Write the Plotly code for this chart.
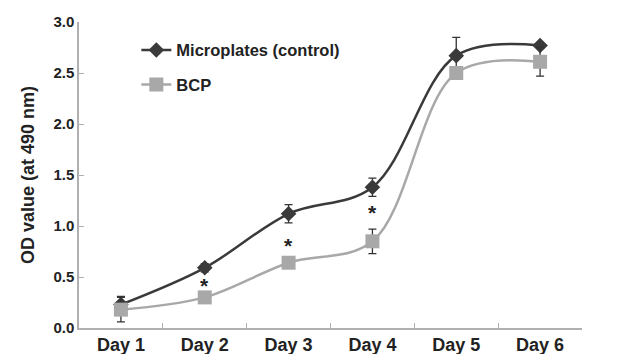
import plotly.graph_objects as go

days = ["Day 1", "Day 2", "Day 3", "Day 4", "Day 5", "Day 6"]
control = [0.23, 0.59, 1.12, 1.38, 2.67, 2.77]
control_err = [0.08, 0.04, 0.09, 0.09, 0.18, 0.02]
bcp = [0.18, 0.30, 0.64, 0.85, 2.50, 2.61]
bcp_err = [0.12, 0.03, 0.05, 0.12, 0.06, 0.14]
star_days = ["Day 2", "Day 3", "Day 4"]
star_y = [0.42, 0.81, 1.13]

FONT = "Liberation Sans, Arial, sans-serif"

fig = go.Figure()
fig.add_trace(go.Scatter(
    x=days, y=control, name="Microplates (control)", mode="lines+markers",
    line=dict(color="#3a3a3a", width=2.5, shape="spline", smoothing=1.0),
    marker=dict(symbol="diamond", size=12, color="#3a3a3a"),
    error_y=dict(type="data", array=control_err, color="#333333", thickness=1.3, width=4),
    legendgroup="a",
))
fig.add_trace(go.Scatter(
    x=days, y=bcp, name="BCP", mode="lines+markers",
    line=dict(color="#a8a8a8", width=2.5, shape="spline", smoothing=1.0),
    marker=dict(symbol="square", size=14, color="#a8a8a8"),
    error_y=dict(type="data", array=bcp_err, color="#333333", thickness=1.3, width=4),
    legendgroup="b",
))

for d, yv in zip(star_days, star_y):
    fig.add_annotation(x=d, y=yv, text="*", showarrow=False,
                       font=dict(family=FONT, size=21, color="#222222", weight="bold"),
                       yanchor="middle")

# page body has an 8px margin, so the figure is drawn 8px in and 8px down
fig.update_layout(
    width=616, height=346,
    margin=dict(l=71, r=42, t=14, b=26),
    paper_bgcolor="white", plot_bgcolor="white",
    font=dict(family=FONT, color="#222222"),
    showlegend=True,
    legend=dict(x=0.114, y=0.965, xanchor="left", yanchor="top",
                bgcolor="rgba(0,0,0,0)", tracegroupgap=10,
                font=dict(family=FONT, size=16.5, color="#222222", weight="bold")),
    xaxis=dict(
        type="category", categoryorder="array", categoryarray=days,
        range=[-0.5, 5.5], automargin=False,
        showline=True, linecolor="#b0b0b0", linewidth=1.5,
        ticks="inside", tickson="boundaries", ticklen=5, tickcolor="#b0b0b0",
        showgrid=False, zeroline=False,
        tickfont=dict(family=FONT, size=18, color="#222222", weight="bold"),
    ),
    yaxis=dict(
        range=[0, 3.0], tickvals=[0, 0.5, 1.0, 1.5, 2.0, 2.5, 3.0],
        ticktext=["0.0", "0.5", "1.0", "1.5", "2.0", "2.5", "3.0"],
        automargin=False,
        showline=True, linecolor="#b0b0b0", linewidth=1.5,
        ticks="inside", ticklen=5, tickcolor="#b0b0b0",
        showgrid=False, zeroline=False,
        tickfont=dict(family=FONT, size=15, color="#222222", weight="bold"),
        title=dict(text="OD value (at 490 nm)", standoff=14,
                   font=dict(family=FONT, size=18, color="#222222", weight="bold")),
    ),
)

fig.write_html("out.html")
